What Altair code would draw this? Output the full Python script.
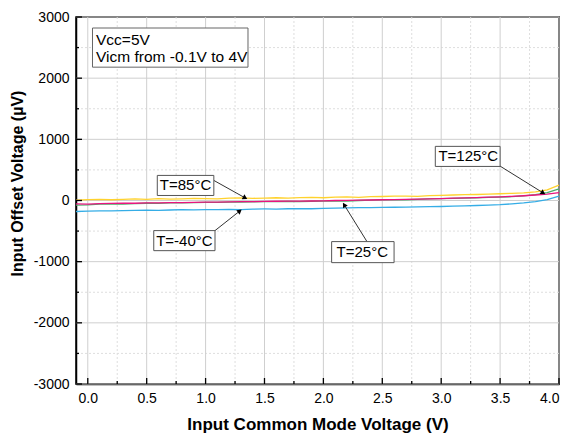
import math
import altair as alt
import pandas as pd

# ---------------- data ----------------
vicm = [-0.1, 0.0, 0.1, 0.2, 0.3, 0.4, 0.5, 0.6, 0.7, 0.8, 0.9, 1.0, 1.1, 1.2, 1.3, 1.4,
        1.5, 1.6, 1.7, 1.8, 1.9, 2.0, 2.1, 2.2, 2.3, 2.4, 2.5, 2.6, 2.7, 2.8, 2.9, 3.0,
        3.1, 3.2, 3.3, 3.4, 3.5, 3.6, 3.7, 3.8, 3.9, 4.0]
vos_125 = [5, 15, 20, 12, 18, 25, 20, 30, 22, 28, 35, 30, 25, 38, 42, 35, 40, 45, 38, 48, 52,
           45, 55, 60, 52, 62, 65, 70, 72, 68, 80, 85, 90, 95, 98, 105, 110, 118, 125, 140, 175, 250]
vos_85 = [-75, -70, -60, -55, -58, -50, -45, -48, -40, -38, -35, -30, -32, -28, -25, -22, -20,
          -18, -15, -20, -12, -10, -5, -8, 0, 5, 10, 15, 12, 20, 25, 30, 35, 38, 45, 50, 55, 62,
          75, 95, 130, 190]
vos_25 = [-55, -60, -50, -48, -45, -45, -40, -38, -35, -35, -30, -28, -25, -22, -20, -18, -15,
          -12, -10, -10, -8, -5, 0, 2, 5, 8, 12, 15, 20, 22, 28, 32, 38, 42, 48, 55, 60, 68, 78,
          90, 105, 130]
vos_m40 = [-180, -175, -170, -168, -165, -160, -158, -162, -155, -150, -152, -148, -150, -145,
           -148, -140, -138, -140, -135, -132, -135, -128, -125, -120, -118, -115, -112, -110,
           -108, -105, -100, -98, -92, -88, -82, -75, -68, -55, -40, -20, 15, 70]

series_names = ["T=125°C", "T=85°C", "T=25°C", "T=-40°C"]
series_colors = ["#FFD22E", "#4CAF6A", "#E8157F", "#35ADE6"]

x_major = [0.0, 0.5, 1.0, 1.5, 2.0, 2.5, 3.0, 3.5, 4.0]
x_minor = [0.25, 0.75, 1.25, 1.75, 2.25, 2.75, 3.25, 3.75]
y_major = [-3000, -2000, -1000, 0, 1000, 2000, 3000]
y_minor = [-2500, -1500, -500, 500, 1500, 2500]

# annotation labels (data units)
ann_text = ["T=85°C", "T=-40°C", "T=25°C", "T=125°C"]
ann_tx = [0.83, 0.82, 2.33, 3.23]
ann_ty = [246, -656, -836, 721]
ann_bx1 = [0.59, 0.56, 2.07, 2.95]
ann_bx2 = [1.07, 1.08, 2.60, 3.50]
ann_by1 = [82, -820, -1016, 557]
ann_by2 = [410, -492, -672, 885]
arr_x1 = [1.07, 1.08, 2.37, 3.49]
arr_y1 = [328, -492, -672, 574]
arr_x2 = [1.33, 1.285, 2.18, 3.86]
arr_y2 = [49, -180, -82, 131]

info_lines = ["Vcc=5V", "Vicm from -0.1V to 4V"]
info_y = [2622, 2344]
info_x = 0.07
info_box = (0.04, 1.36, 2180, 2820)

# ---------------- layout ----------------
W, H = 483, 367
XD = [-0.1, 4.0]
YD = [-3000, 3000]
FONT = "Liberation Sans"

xs = alt.Scale(domain=XD, nice=False, zero=False)
ys = alt.Scale(domain=YD, nice=False, zero=False)

rows = []
for name, vals in zip(series_names, [vos_125, vos_85, vos_25, vos_m40]):
    for xv, yv in zip(vicm, vals):
        rows.append({"x": xv, "y": yv, "s": name})
df = pd.DataFrame(rows)

gx_major = alt.Chart(pd.DataFrame({"x": x_major})).mark_rule(color="#cfcfcf", strokeWidth=1).encode(
    x=alt.X("x:Q", scale=xs))
gx_minor = alt.Chart(pd.DataFrame({"x": x_minor})).mark_rule(
    color="#dedede", strokeWidth=1, strokeDash=[2, 2]).encode(x=alt.X("x:Q", scale=xs))
gy_major = alt.Chart(pd.DataFrame({"y": y_major})).mark_rule(color="#cfcfcf", strokeWidth=1).encode(
    y=alt.Y("y:Q", scale=ys))
gy_minor = alt.Chart(pd.DataFrame({"y": y_minor})).mark_rule(
    color="#dedede", strokeWidth=1, strokeDash=[2, 2]).encode(y=alt.Y("y:Q", scale=ys))

# inward ticks
tx_major = alt.Chart(pd.DataFrame({"x": x_major})).mark_rule(color="black", strokeWidth=1.3).encode(
    x=alt.X("x:Q", scale=xs), y=alt.value(H), y2=alt.value(H - 6))
tx_minor = alt.Chart(pd.DataFrame({"x": x_minor})).mark_rule(color="black", strokeWidth=1.3).encode(
    x=alt.X("x:Q", scale=xs), y=alt.value(H), y2=alt.value(H - 3))
ty_major = alt.Chart(pd.DataFrame({"y": y_major})).mark_rule(color="black", strokeWidth=1.3).encode(
    y=alt.Y("y:Q", scale=ys), x=alt.value(0), x2=alt.value(6))
ty_minor = alt.Chart(pd.DataFrame({"y": y_minor})).mark_rule(color="black", strokeWidth=1.3).encode(
    y=alt.Y("y:Q", scale=ys), x=alt.value(0), x2=alt.value(3))

lines = alt.Chart(df).mark_line(strokeWidth=1.3).encode(
    x=alt.X("x:Q", scale=xs,
            axis=alt.Axis(values=x_major, format=".1f", title="Input Common Mode Voltage (V)",
                          grid=False, ticks=False, labelPadding=7, titlePadding=11)),
    y=alt.Y("y:Q", scale=ys,
            axis=alt.Axis(values=y_major, labelExpr="'' + datum.value", title="Input Offset Voltage (µV)",
                          grid=False, ticks=False, labelPadding=7, titlePadding=8,
                          titleFontSize=16, titleY=166)),
    color=alt.Color("s:N", scale=alt.Scale(domain=series_names, range=series_colors), legend=None),
    order=alt.Order("x:Q"),
)

# annotations
ann = pd.DataFrame({"t": ann_text, "tx": ann_tx, "ty": ann_ty, "bx1": ann_bx1, "bx2": ann_bx2,
                    "by1": ann_by1, "by2": ann_by2, "ax1": arr_x1, "ay1": arr_y1,
                    "ax2": arr_x2, "ay2": arr_y2})
sx = W / (XD[1] - XD[0])
sy = H / (YD[1] - YD[0])
ann["ang"] = [
    (math.degrees(math.atan2((b - a) * sx, (d - c) * sy)) + 360) % 360
    for a, b, c, d in zip(ann["ax1"], ann["ax2"], ann["ay1"], ann["ay2"])
]

boxes = alt.Chart(ann).mark_rect(fill="white", stroke="#555555", strokeWidth=1).encode(
    x=alt.X("bx1:Q", scale=xs), x2="bx2:Q", y=alt.Y("by1:Q", scale=ys), y2="by2:Q")
texts = alt.Chart(ann).mark_text(font=FONT, fontSize=15, color="black").encode(
    x=alt.X("tx:Q", scale=xs), y=alt.Y("ty:Q", scale=ys), text="t:N")
arrows = alt.Chart(ann).mark_rule(color="#333333", strokeWidth=1).encode(
    x=alt.X("ax1:Q", scale=xs), y=alt.Y("ay1:Q", scale=ys), x2="ax2:Q", y2="ay2:Q")
heads = alt.Chart(ann).mark_point(shape="triangle", filled=True, color="black", size=30, opacity=1).encode(
    x=alt.X("ax2:Q", scale=xs), y=alt.Y("ay2:Q", scale=ys), angle=alt.Angle("ang:Q", scale=None))

info_df = pd.DataFrame({"x1": [info_box[0]], "x2": [info_box[1]], "y1": [info_box[2]], "y2": [info_box[3]]})
info_box_mark = alt.Chart(info_df).mark_rect(fill="white", stroke="#666666", strokeWidth=1).encode(
    x=alt.X("x1:Q", scale=xs), x2="x2:Q", y=alt.Y("y1:Q", scale=ys), y2="y2:Q")
info_txt = alt.Chart(pd.DataFrame({"t": info_lines, "y": info_y, "x": [info_x] * 2})).mark_text(
    font=FONT, fontSize=15.5, align="left", color="black").encode(
    x=alt.X("x:Q", scale=xs), y=alt.Y("y:Q", scale=ys), text="t:N")

chart = alt.layer(
    gx_minor, gy_minor, gx_major, gy_major,
    lines,
    arrows, heads, boxes, texts,
    info_box_mark, info_txt,
    tx_major, tx_minor, ty_major, ty_minor,
).properties(
    width=W, height=H,
    autosize=alt.AutoSizeParams(type="none"),
    padding={"left": 68, "top": 9, "right": 4, "bottom": 50},
).configure_view(
    stroke="black", strokeWidth=1.5
).configure_axis(
    labelFont=FONT, titleFont=FONT, labelFontSize=14, titleFontSize=17, titleFontWeight="bold",
    labelColor="black", titleColor="black", domainColor="black", domainWidth=1.5,
)

chart.save("out.html", embed_options={"renderer": "svg", "actions": False})
